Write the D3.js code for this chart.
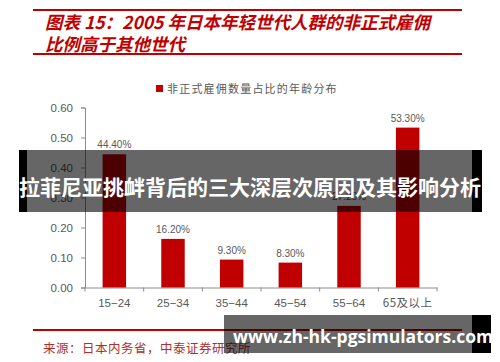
<!DOCTYPE html>
<html><head><meta charset="utf-8">
<script src="https://cdn.jsdelivr.net/npm/d3@7"></script>
<style>
html,body{margin:0;padding:0;background:#fff;}
svg{display:block;}
</style></head>
<body>
<svg id="c" width="500" height="362"></svg>
<script>
const categories = ["15−24","25−34","35−44","45−54","55−64","65及以上"];
const values = [0.444, 0.162, 0.093, 0.083, 0.272, 0.533];
const valueLabels = ["44.40%","16.20%","9.30%","8.30%","27.20%","53.30%"];
const yTicks = [0, 0.1, 0.2, 0.3, 0.4, 0.5, 0.6];
const titleLines = ["图表 15：2005 年日本年轻世代人群的非正式雇佣","比例高于其他世代"];
const legendLabel = "非正式雇佣数量占比的年龄分布";
const sourceText = "来源：日本内务省，中泰证券研究所";
const bannerText = "拉菲尼亚挑衅背后的三大深层次原因及其影响分析";
const urlText = "www.zh-hk-pgsimulators.com";

const svg = d3.select("#c");
const red = "#c00000";
const gray = "#595959";
const cjk = "'Noto Sans CJK SC','Noto Sans',sans-serif";

// header rules
svg.append("rect").attr("x",33).attr("y",9).attr("width",429).attr("height",2).attr("fill",red);
svg.append("rect").attr("x",33).attr("y",53).attr("width",429).attr("height",2).attr("fill",red);
titleLines.forEach((t,i)=>{
  svg.append("text").attr("x",45).attr("y",29+i*21.5)
    .attr("font-family",cjk).attr("font-size",17.5).attr("font-weight","bold")
    .attr("font-style","italic").attr("fill",red).text(t);
});

// legend
svg.append("rect").attr("x",156).attr("y",85).attr("width",7).attr("height",7).attr("fill",red);
svg.append("text").attr("x",167).attr("y",92.5).attr("font-family",cjk)
  .attr("font-size",11).attr("letter-spacing",1.2).attr("fill",gray).text(legendLabel);

// scales
const y = d3.scaleLinear().domain([0,0.6]).range([287.5,107.5]);
const x = d3.scaleBand().domain(categories).range([85,437]).paddingInner(0.6).paddingOuter(0.3);
const step = x.step();

const axisColor = "#8c8c8c";
// y axis
const yAxis = d3.axisLeft(y).tickValues(yTicks).tickFormat(d3.format(".2f")).tickSize(4).tickPadding(8);
const gy = svg.append("g").attr("transform","translate(85,0)").call(yAxis);
gy.select(".domain").attr("stroke",axisColor);
gy.selectAll(".tick line").attr("stroke",axisColor);
gy.selectAll(".tick text").attr("fill",gray).attr("font-family","'Liberation Sans',Arial,sans-serif").attr("font-size",11.5);

// x axis
const xAxis = d3.axisBottom(x).tickSize(0).tickPadding(11);
const gx = svg.append("g").attr("transform",`translate(0,${y(0)})`).call(xAxis);
gx.select(".domain").attr("stroke",axisColor);
gx.selectAll(".tick text").attr("fill",gray).attr("font-family","'Liberation Sans',Arial,sans-serif").attr("font-size",11.5);
gx.selectAll(".tick text").filter(d=>d==="65及以上").attr("font-family",cjk).attr("letter-spacing",0.5);
const bounds = categories.map(c=>x(c)-step*x.paddingOuter()).concat([x.range()[1]]);
gx.selectAll(".bnd").data(bounds).enter().append("line")
  .attr("x1",d=>d).attr("x2",d=>d).attr("y1",0).attr("y2",4).attr("stroke",axisColor);

// bars
svg.selectAll(".bar").data(values).enter().append("rect")
  .attr("x",(d,i)=>x(categories[i])).attr("width",x.bandwidth())
  .attr("y",d=>y(d)).attr("height",d=>y(0)-y(d)).attr("fill",red);
svg.selectAll(".vl").data(values).enter().append("text")
  .attr("x",(d,i)=>x(categories[i])+x.bandwidth()/2).attr("y",d=>y(d)-6)
  .attr("text-anchor","middle").attr("font-family","'Liberation Sans',Arial,sans-serif")
  .attr("font-size",10).attr("fill",gray).text((d,i)=>valueLabels[i]);

// footer
svg.append("rect").attr("x",33).attr("y",329).attr("width",429).attr("height",2).attr("fill",red);
svg.append("text").attr("x",43).attr("y",353).attr("font-family",cjk).attr("font-size",12.5)
  .attr("letter-spacing",0.5).attr("fill","#b03030").text(sourceText);

// overlay banner
svg.append("rect").attr("x",19).attr("y",150).attr("width",463).attr("height",62).attr("fill","#000").attr("opacity",0.6);
svg.append("rect").attr("x",19).attr("y",150).attr("width",8).attr("height",62).attr("fill","#000");
svg.append("rect").attr("x",472).attr("y",150).attr("width",10).attr("height",62).attr("fill","#000");
svg.append("text").attr("x",250).attr("y",195).attr("text-anchor","middle")
  .attr("font-family",cjk).attr("font-size",21).attr("font-weight","bold").attr("fill","#fff").text(bannerText);

// url banner
svg.append("rect").attr("x",224).attr("y",315).attr("width",267).attr("height",38).attr("fill","#000").attr("opacity",0.6);
svg.append("rect").attr("x",472).attr("y",315).attr("width",19).attr("height",38).attr("fill","#000");
svg.append("text").attr("x",233).attr("y",343)
  .attr("font-family","'Open Sans',sans-serif").attr("font-size",17.5).attr("font-weight","bold")
  .attr("fill","#fff").text(urlText);
</script>
</body></html>
